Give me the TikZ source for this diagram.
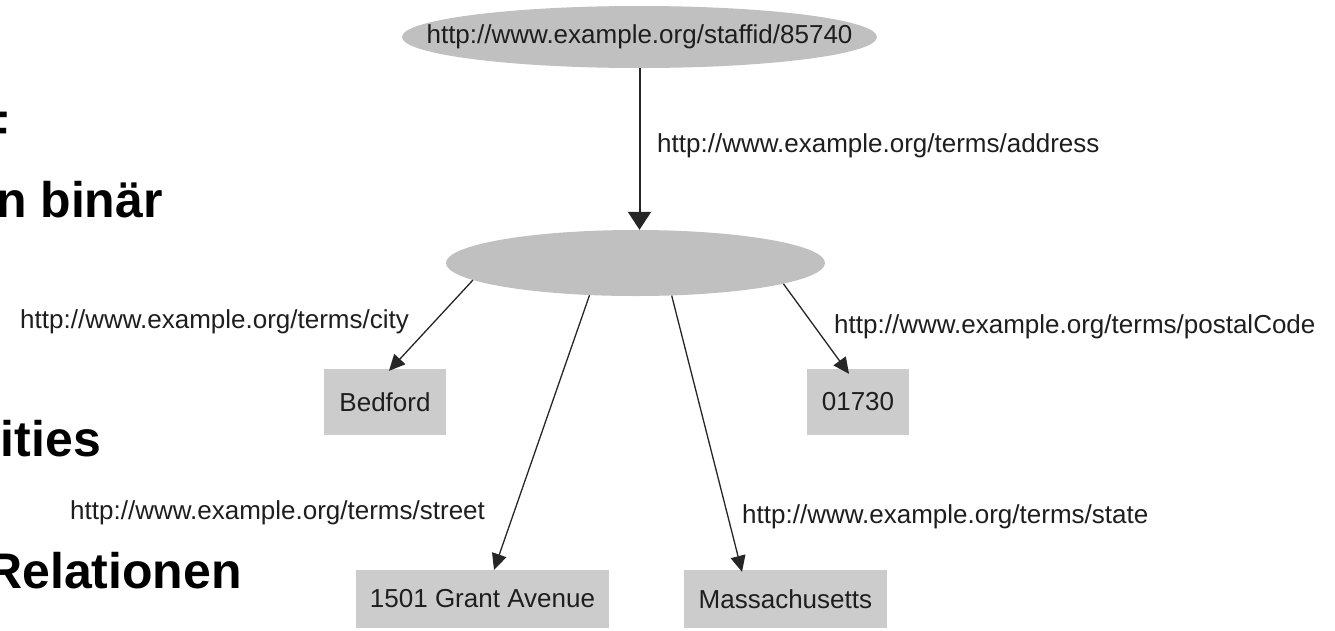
\documentclass[tikz,border=0pt]{standalone}
\usepackage{fontspec}
\setmainfont{Liberation Sans}
\usetikzlibrary{arrows.meta,shapes.geometric,calc}
\definecolor{ellgray}{RGB}{192,192,192}
\definecolor{boxgray}{RGB}{204,204,204}
\definecolor{txt}{RGB}{30,30,30}
\begin{document}
\begin{tikzpicture}[x=1pt,y=-1pt,
  lbl/.style={font=\fontsize{26}{30}\selectfont, text=txt, inner sep=0pt, anchor=base west},
  res/.style={ellipse, fill=ellgray, inner sep=0pt},
  lit/.style={rectangle, fill=boxgray, inner sep=0pt, font=\fontsize{26}{30}\selectfont, text=txt},
  edge/.style={draw=black!85, line width=1.3pt, -{Triangle[length=16pt,width=15pt]}},
  big/.style={font=\fontsize{50}{60}\selectfont\bfseries, inner sep=0pt, anchor=base east}]
\useasboundingbox (0,0) rectangle (1335,630);
\fill[white] (0,0) rectangle (1335,630);

% left slide text (cut off)
\node[big] (t1) at (9,146) {F};
\node[big] (t2) at (163,217) {n binär};
\node[big] (t3) at (101,456) {ities};
\node[big] (t4) at (242,588) {Relationen};

% resources
\node[res, minimum width=475pt, minimum height=62pt] (top) at (639.5,37)
  {\makebox[0pt]{\fontsize{26}{30}\selectfont\color{txt}http://www.example.org/staffid/85740}};
\node[res, minimum width=379pt, minimum height=66pt] (mid) at (635.5,263) {};

% literals
\node[lit, minimum width=122pt, minimum height=66pt] (bed) at (385,402) {Bedford};
\node[lit, minimum width=102pt, minimum height=66pt] (zip) at (858,402) {01730};
\node[lit, minimum width=253pt, minimum height=58pt] (str) at (482.5,599) {1501 Grant Avenue};
\node[lit, inner xsep=14.5pt, minimum height=58pt, anchor=west] (sta) at (684,599) {Massachusetts};

% edges
\draw[edge, line width=2pt, -{Triangle[length=18pt,width=23pt]}] (top.south) -- (top.south |- mid.north);
\draw[edge] (mid.186.6) -- ([xshift=4pt,yshift=-2pt]bed.north);
\draw[edge] (mid.215) -- ([xshift=11.5pt]str.north);
\draw[edge] (mid.318.5) -- ([xshift=58pt,yshift=-2pt]sta.north west);
\draw[edge] (mid.352.4) -- ([xshift=-9pt,yshift=-5pt]zip.north);

% edge labels
\node[lbl] (laddr) at (657,152) {http://www.example.org/terms/address};
\node[lbl] (lcity) at (20,328) {http://www.example.org/terms/city};
\node[lbl] (lpost) at (834,333) {http://www.example.org/terms/postalCode};
\node[lbl] (lstr) at (70,519) {http://www.example.org/terms/street};
\node[lbl] (lsta) at (742,523) {http://www.example.org/terms/state};
\end{tikzpicture}
\end{document}
